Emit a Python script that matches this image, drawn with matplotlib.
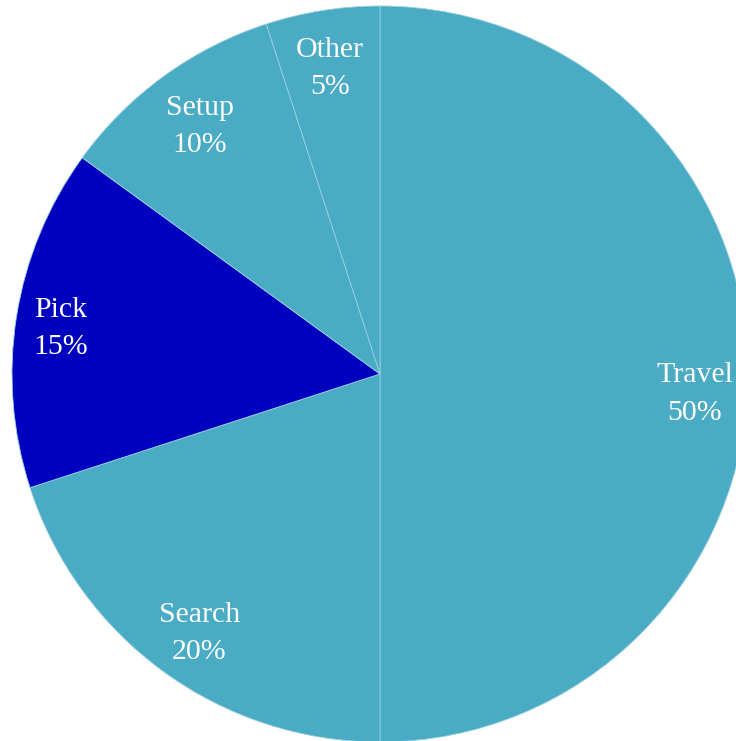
import matplotlib
matplotlib.use("Agg")
import matplotlib.pyplot as plt
from matplotlib.transforms import ScaledTranslation

categories = ["Travel", "Search", "Pick", "Setup", "Other"]
shares = [50, 20, 15, 10, 5]
colors = ["#4AABC5", "#4AABC5", "#0000BF", "#4AABC5", "#4AABC5"]

W, H = 736, 741
fig = plt.figure(figsize=(W / 100, H / 100), dpi=100)
cx, cy, r = 380, 374, 368
ax = fig.add_axes([(cx - r) / W, (H - cy - r) / H, 2 * r / W, 2 * r / H])

labels = [f"{c}\n{v}%" for c, v in zip(categories, shares)]
wedges, texts = ax.pie(
    shares,
    labels=labels,
    colors=colors,
    startangle=90,
    counterclock=False,
    labeldistance=0.85,
    radius=1.0,
    wedgeprops=dict(edgecolor="#9ad0df", linewidth=0.6),
    textprops=dict(color="white", fontsize=21.5, family=["Liberation Serif", "DejaVu Serif"],
                   linespacing=1.55),
)

# small label nudges (pixels: right, down)
nudges = {"Travel": (2, 20), "Search": (3, 6), "Pick": (-10, 3), "Setup": (4, 6), "Other": (-1, 3)}
for t, c in zip(texts, categories):
    t.set_horizontalalignment("center")
    t.set_verticalalignment("center")
    dx, dy = nudges[c]
    t.set_transform(t.get_transform() + ScaledTranslation(dx / 100, -dy / 100, fig.dpi_scale_trans))

ax.set_xlim(-1, 1)
ax.set_ylim(-1, 1)
ax.set_aspect("auto")
ax.axis("off")

fig.savefig("out.png", dpi=100)
